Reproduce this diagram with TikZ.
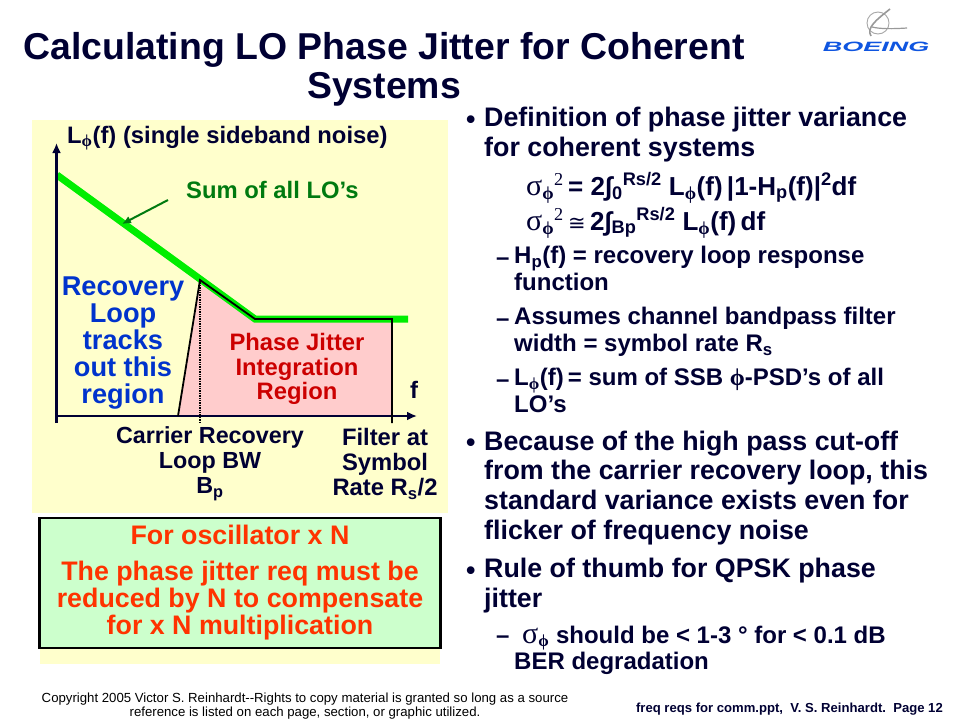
\documentclass[tikz,border=0pt]{standalone}
\usepackage{fontspec}
\setmainfont{Liberation Sans}
\newfontfamily\symfont{Liberation Serif}
\newfontfamily\congfont{DejaVu Sans}
\usetikzlibrary{arrows.meta}
\definecolor{paleyellow}{HTML}{FFFFCC}
\definecolor{palepink}{HTML}{FFCCCC}
\definecolor{palegreen}{HTML}{CCFFCC}
\definecolor{linegreen}{HTML}{00EE00}
\definecolor{darkgreen}{HTML}{007A10}
\definecolor{loopblue}{HTML}{0033CC}
\definecolor{jitterred}{HTML}{CC0000}
\definecolor{reqred}{HTML}{FF3300}
\definecolor{inknavy}{HTML}{000033}
\definecolor{boeingblue}{HTML}{0F55E0}
\newcommand{\sigphi}{{\symfont\mdseries\fontsize{30}{30}\selectfont σ}{\symfont\bfseries\textsubscript{ϕ}}}
\newcommand{\lphi}{L\textsubscript{{\symfont ϕ}}}
\newcommand{\sq}{{\symfont\mdseries\textsuperscript{2}}}
\tikzset{
  body/.style={inner sep=0pt,anchor=north west,align=left,text=inknavy,execute at begin node=\strut,font=\fontsize{26.8}{29.8}\selectfont\bfseries},
  subbody/.style={body,font=\fontsize{24}{27}\selectfont\bfseries},
  eqline/.style={body,anchor=base west,execute at begin node={},font=\fontsize{26}{29}\selectfont\bfseries},
  graphlabel/.style={inner sep=0pt,align=center,font=\fontsize{23.8}{25}\selectfont\bfseries},
  fineprint/.style={inner sep=0pt,align=center,font=\fontsize{13.2}{13.8}\selectfont}
}
\begin{document}
\begin{tikzpicture}[x=1pt,y=-1pt]
  \useasboundingbox[fill=white] (0,0) rectangle (960,720);
  % backgrounds
  \fill[paleyellow] (32,120) rectangle (448,513);
  \fill[paleyellow] (40,640) rectangle (440,664);
  \fill[palepink] (178,416) -- (200,280) -- (255,319) -- (392,319) -- (392,416) -- cycle;
  % curve and axes
  \coordinate (origin) at (56.5,416);
  \coordinate (ytop) at (56.5,143);
  \coordinate (ybot) at (56.5,423);
  \coordinate (xend) at (417,416);
  \coordinate (knee) at (255,319);
  \coordinate (corner) at (392,319);
  \coordinate (start) at (57,175);
  \coordinate (stop) at (408,319);
  \coordinate (bw) at (200,280);
  \coordinate (bwfoot) at (178,416);
  \coordinate (bwdrop) at (200,423);
  \coordinate (rsdrop) at (392,423);
  \draw[linegreen,line width=7pt] (start) -- (knee) -- (stop);
  \draw[inknavy,line width=2.2pt,-{Latex[length=10pt,width=9pt]}] (ybot) -- (ytop);
  \draw[inknavy,line width=2.2pt,-{Latex[length=10pt,width=9pt]}] (origin) -- (xend);
  \draw[black,line width=1.8pt] (bwfoot) -- (bw) -- (knee) -- (corner) -- (rsdrop);
  \draw[black,line width=1.4pt,densely dotted] (bw) -- (bwdrop);
  % title and logo
  \node[inner sep=0pt,align=center,text=inknavy,font=\fontsize{37.4}{39}\selectfont\bfseries] (title) at (384,69)
    {Calculating LO Phase Jitter for Coherent\\Systems};
  \draw[gray!70,line width=0.9pt] (878,23) circle (11);
  \draw[gray!80,line width=1.6pt] (890,9) .. controls (876,20) and (866,28) .. (871,36);
  \draw[gray!80,line width=1.2pt] (872,27) .. controls (880,29) and (892,29) .. (907,28);
  \node[inner sep=0pt,text=boeingblue,xscale=2,font=\fontsize{13.5}{13.5}\selectfont\bfseries\itshape] (logo) at (876,47) {BOEING};
  % graph labels
  \node[graphlabel,text=inknavy,anchor=base west] (ylabel) at (67,143) {\lphi(f) (single sideband noise)};
  \node[graphlabel,text=darkgreen,anchor=base west] (sumlabel) at (186,198) {Sum of all LO’s};
  \coordinate (sumtail) at (168,200);
  \coordinate (sumtip) at (122,224);
  \draw[darkgreen,line width=2pt,-{Latex[length=9pt,width=8pt]}] (sumtail) -- (sumtip);
  \node[graphlabel,text=loopblue,font=\fontsize{27.2}{27.2}\selectfont\bfseries] (track) at (123,343) {Recovery\\Loop\\tracks\\out this\\region};
  \node[graphlabel,text=jitterred,font=\fontsize{23.8}{24.2}\selectfont\bfseries] (region) at (297,369) {Phase Jitter\\Integration\\Region};
  \node[graphlabel,text=inknavy] (flabel) at (414,390) {f};
  \node[graphlabel,text=inknavy,font=\fontsize{23.3}{25}\selectfont\bfseries] (carrier) at (210,464) {Carrier Recovery\\Loop BW\\B\textsubscript{p}};
  \node[graphlabel,text=inknavy] (filter) at (385,464) {Filter at\\Symbol\\Rate R\textsubscript{s}/2};
  % requirement box
  \node[draw=black,line width=2.4pt,fill=palegreen,minimum width=401pt,minimum height=130pt,inner sep=0pt] (reqbox) at (240,583) {};
  \node[graphlabel,text=reqred,font=\fontsize{26.8}{27}\selectfont\bfseries] (reqa) at (240,535) {For oscillator x N};
  \node[graphlabel,text=reqred,font=\fontsize{26.8}{27}\selectfont\bfseries] (reqb) at (240,601) {The phase jitter req must be\\reduced by N to compensate\\for x N multiplication};
  % right column
  \node[body] (bullet1) at (466,107) {•};
  \node[body] (def) at (484,107) {Definition of phase jitter variance\\for coherent systems};
  \node[eqline] (eqa) at (526,195) {\sigphi\sq{}\,= 2∫\textsubscript{0}\textsuperscript{Rs/2} \lphi(f)\,|1-H\textsubscript{p}(f)|\textsuperscript{2}df};
  \node[eqline] (eqb) at (526,230) {\sigphi\sq{}\,{\congfont\mdseries\fontsize{21}{21}\selectfont ≅}\,2∫\textsubscript{Bp}\textsuperscript{Rs/2} \lphi(f)\,df};
  \node[subbody] (dash1) at (496,246) {–};
  \node[subbody] (hp) at (514,246) {H\textsubscript{p}(f) = recovery loop response\\function};
  \node[subbody] (dash2) at (496,307) {–};
  \node[subbody] (filt) at (514,307) {Assumes channel bandpass filter\\width = symbol rate R\textsubscript{s}};
  \node[subbody] (dash3) at (496,368) {–};
  \node[subbody] (lsum) at (514,368) {\lphi(f)\,= sum of SSB {\symfont ϕ}-PSD’s of all\\LO’s};
  \node[body] (bullet2) at (466,430.5) {•};
  \node[body] (high) at (484,430.5) {Because of the high pass cut-off\\from the carrier recovery loop, this\\standard variance exists even for\\flicker of frequency noise};
  \node[body] (bullet3) at (466,558) {•};
  \node[body] (thumb) at (484,558) {Rule of thumb for QPSK phase\\jitter};
  \node[subbody] (dash4) at (496,624) {–};
  \node[subbody] (ber) at (522,624) {\sigphi{} should be < 1-3 ° for < 0.1 dB};
  \node[subbody] (ber2) at (514,650) {BER degradation};
  % footer
  \node[fineprint] (copy) at (305,706) {Copyright 2005 Victor S. Reinhardt-{}-Rights to copy material is granted so long as a source\\reference is listed on each page, section, or graphic utilized.};
  \node[inner sep=0pt,anchor=base east,text=inknavy,font=\fontsize{13.1}{13}\selectfont\bfseries] (page) at (943,712) {freq reqs for comm.ppt,\ \ V. S. Reinhardt.\ \ Page 12};
\end{tikzpicture}
\end{document}
